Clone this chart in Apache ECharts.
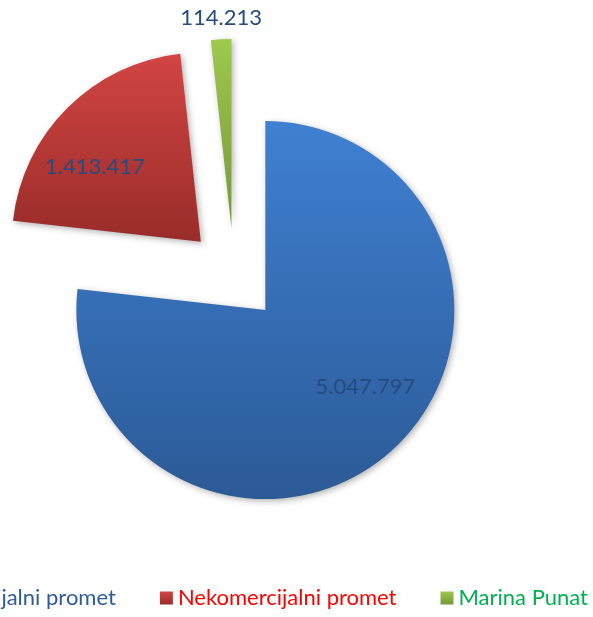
<!DOCTYPE html>
<html>
<head>
<meta charset="utf-8">
<script src="https://cdn.jsdelivr.net/npm/echarts@6/dist/echarts.min.js"></script>
<style>
    html, body { margin: 0; padding: 0; background: #fff; }
    #chart { width: 593px; height: 617px; }
</style>
</head>
<body>
<div id="chart"></div>
<script>
    // podaci
    const categories = ['Komercijalni promet', 'Nekomercijalni promet', 'Marina Punat'];
    const values = [5047797, 1413417, 114213];

    // boje (gornja / donja za gradijent) i boje teksta legende
    const topColors = ['#3f80d2', '#d24543', '#9dc94c'];
    const bottomColors = ['#2c5a96', '#982c2a', '#76973b'];
    const legendColors = ['#2f5c98', '#ff0000', '#00b050'];
    // pomak oznaka od zadane pozicije
    const labelNudge = [[35, 4], [-37, -6], [-5, -113]];

    function fmt(v) {
        return String(v).replace(/\B(?=(\d{3})+(?!\d))/g, '.');
    }

    const chart = echarts.init(document.getElementById('chart'));
    chart.setOption({
        animation: false,
        legend: {
            right: 0,
            bottom: 3,
            width: 900,
            orient: 'horizontal',
            icon: 'rect',
            itemWidth: 13,
            itemHeight: 13,
            itemGap: 44,
            textStyle: { fontFamily: 'Lato', fontSize: 22 },
            data: categories.map((c, i) => ({ name: c, textStyle: { color: legendColors[i] } }))
        },
        series: [{
            type: 'pie',
            center: [234, 275],
            radius: 189,
            startAngle: 90,
            clockwise: true,
            selectedMode: 'multiple',
            selectedOffset: 47,
            emphasis: { disabled: true },
            label: {
                show: true,
                position: 'inside',
                fontFamily: 'Lato',
                fontSize: 22,
                color: '#264b80',
                formatter: p => fmt(p.value)
            },
            labelLine: { show: false },
            labelLayout: p => ({ dx: labelNudge[p.dataIndex][0], dy: labelNudge[p.dataIndex][1] }),
            itemStyle: {
                shadowBlur: 6,
                shadowOffsetX: 2,
                shadowOffsetY: 2,
                shadowColor: 'rgba(0,0,0,0.3)'
            },
            data: categories.map((c, i) => ({
                name: c,
                value: values[i],
                selected: true,
                itemStyle: {
                    color: new echarts.graphic.LinearGradient(0, 0, 0, 1, [
                        { offset: 0, color: topColors[i] },
                        { offset: 1, color: bottomColors[i] }
                    ])
                }
            }))
        }]
    });
</script>
</body>
</html>
